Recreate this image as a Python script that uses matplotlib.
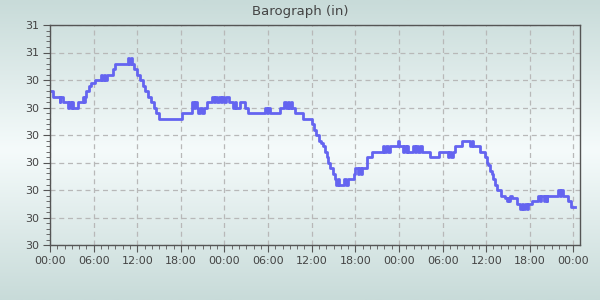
import matplotlib
matplotlib.use('Agg')
import matplotlib.pyplot as plt
import numpy as np
from matplotlib.colors import LinearSegmentedColormap
from matplotlib.ticker import MultipleLocator

# Zeit in Stunden ab Start, Luftdruck in inHg (Treppenlinie)
hours = [
    0.14, 0.41, 1.31, 1.44, 1.79, 2.48, 2.65, 2.85, 3.00, 3.16,
    3.85, 4.54, 4.70, 4.85, 4.95, 5.32, 5.64, 6.15, 6.97, 7.20,
    7.40, 7.60, 7.80, 8.67, 8.90, 10.73, 10.90, 11.10, 11.30, 11.55,
    12.00, 12.34, 12.79, 13.11, 13.48, 13.93, 14.31, 14.58, 14.99, 18.16,
    19.53, 19.75, 19.95, 20.22, 20.40, 20.60, 20.90, 21.18, 21.60, 22.28,
    22.50, 22.70, 23.00, 23.20, 23.50, 23.70, 24.00, 24.20, 24.62, 25.17,
    25.40, 25.60, 26.13, 26.82, 27.24, 29.57, 29.80, 30.00, 30.26, 31.64,
    32.19, 32.50, 32.70, 32.90, 33.10, 33.29, 33.70, 34.80, 36.04, 36.31,
    36.59, 37.00, 37.28, 37.55, 37.83, 38.06, 38.24, 38.51, 38.93, 39.20,
    39.40, 39.60, 39.80, 40.30, 40.50, 40.70, 40.99, 41.82, 42.00, 42.30,
    42.50, 42.80, 42.92, 43.60, 44.29, 45.80, 46.00, 46.20, 46.50, 46.77,
    47.87, 48.00, 48.56, 48.75, 48.95, 49.10, 49.24, 49.93, 50.15, 50.40,
    50.60, 50.85, 51.17, 52.27, 53.51, 54.75, 54.95, 55.20, 55.43, 55.71,
    56.67, 57.77, 58.00, 58.20, 59.15, 59.83, 60.07, 60.29, 60.50, 60.80,
    60.98, 61.21, 61.53, 62.00, 62.59, 62.80, 63.00, 63.20, 63.27, 63.51,
    64.24, 64.65, 64.90, 65.10, 65.40, 65.60, 65.75, 66.30, 67.13, 67.40,
    67.60, 67.90, 68.10, 68.30, 68.36, 69.88, 70.10, 70.30, 70.56, 71.25,
    71.66, 72.20,
]
pressure = [
    30.36, 30.34, 30.32, 30.34, 30.32, 30.30, 30.32, 30.30, 30.32, 30.30,
    30.32, 30.34, 30.32, 30.34, 30.36, 30.38, 30.39, 30.40, 30.42, 30.40,
    30.42, 30.40, 30.42, 30.44, 30.46, 30.48, 30.46, 30.48, 30.46, 30.44,
    30.42, 30.40, 30.38, 30.36, 30.34, 30.32, 30.30, 30.28, 30.26, 30.28,
    30.32, 30.30, 30.32, 30.30, 30.28, 30.30, 30.28, 30.30, 30.32, 30.34,
    30.32, 30.34, 30.32, 30.34, 30.32, 30.34, 30.32, 30.34, 30.32, 30.30,
    30.32, 30.30, 30.32, 30.30, 30.28, 30.30, 30.28, 30.30, 30.28, 30.30,
    30.32, 30.30, 30.32, 30.30, 30.32, 30.30, 30.28, 30.26, 30.24, 30.22,
    30.20, 30.18, 30.17, 30.16, 30.14, 30.12, 30.10, 30.08, 30.06, 30.04,
    30.02, 30.04, 30.02, 30.02, 30.04, 30.02, 30.04, 30.06, 30.08, 30.06,
    30.08, 30.06, 30.08, 30.12, 30.14, 30.16, 30.14, 30.16, 30.14, 30.16,
    30.18, 30.16, 30.14, 30.16, 30.14, 30.16, 30.14, 30.16, 30.14, 30.16,
    30.14, 30.16, 30.14, 30.12, 30.14, 30.12, 30.14, 30.12, 30.14, 30.16,
    30.18, 30.16, 30.18, 30.16, 30.14, 30.12, 30.10, 30.09, 30.07, 30.06,
    30.04, 30.02, 30.00, 29.98, 29.97, 29.96, 29.97, 29.96, 29.98, 29.97,
    29.95, 29.93, 29.95, 29.93, 29.95, 29.93, 29.95, 29.96, 29.98, 29.96,
    29.98, 29.96, 29.98, 29.96, 29.98, 30.00, 29.98, 30.00, 29.98, 29.96,
    29.94, 29.94,
]

x_tick_hours = [0, 6, 12, 18, 24, 30, 36, 42, 48, 54, 60, 66, 72]
x_tick_labels = ['00:00', '06:00', '12:00', '18:00'] * 3 + ['00:00']
y_ticks = [29.8, 29.9, 30.0, 30.1, 30.2, 30.3, 30.4, 30.5, 30.6]
y_tick_labels = ['30', '30', '30', '30', '30', '30', '30', '31', '31']

fig = plt.figure(figsize=(6, 3), dpi=100)

# Hintergrund-Verlauf (oben/unten grau-tuerkis, Mitte fast weiss)
bg = fig.add_axes([0, 0, 1, 1], zorder=0)
cmap = LinearSegmentedColormap.from_list('bg', ['#c8dbd9', '#f5fbfb', '#c8dbd9'])
bg.imshow(np.linspace(0, 1, 256).reshape(-1, 1), aspect='auto', cmap=cmap,
          extent=[0, 1, 0, 1])
bg.axis('off')

ax = fig.add_axes([50 / 600, 55 / 300, 530 / 600, 220 / 300], zorder=1)
ax.patch.set_alpha(0)
ax.step(hours, pressure, where='post', color='#6464f0', linewidth=2)

ax.set_xlim(0, 72.9)
ax.set_ylim(29.8, 30.6)
ax.set_xticks(x_tick_hours)
ax.set_xticklabels(x_tick_labels)
ax.set_yticks(y_ticks)
ax.set_yticklabels(y_tick_labels)
ax.xaxis.set_minor_locator(MultipleLocator(1))
ax.yaxis.set_minor_locator(MultipleLocator(0.02))

ax.tick_params(which='major', length=5, color='#555555', labelsize=8,
               labelcolor='#444444', pad=3)
ax.tick_params(which='minor', length=3, color='#555555')
for s in ax.spines.values():
    s.set_color('#555555')
    s.set_linewidth(1)

ax.grid(True, which='major', linestyle=(0, (4, 3)), color='#b8b8b8',
        linewidth=0.9)
ax.set_axisbelow(True)

fig.text(0.5, 1 - 11 / 300, 'Barograph (in)', ha='center', va='center',
         fontsize=9.5, color='#444444')

fig.savefig('out.png', dpi=100)
